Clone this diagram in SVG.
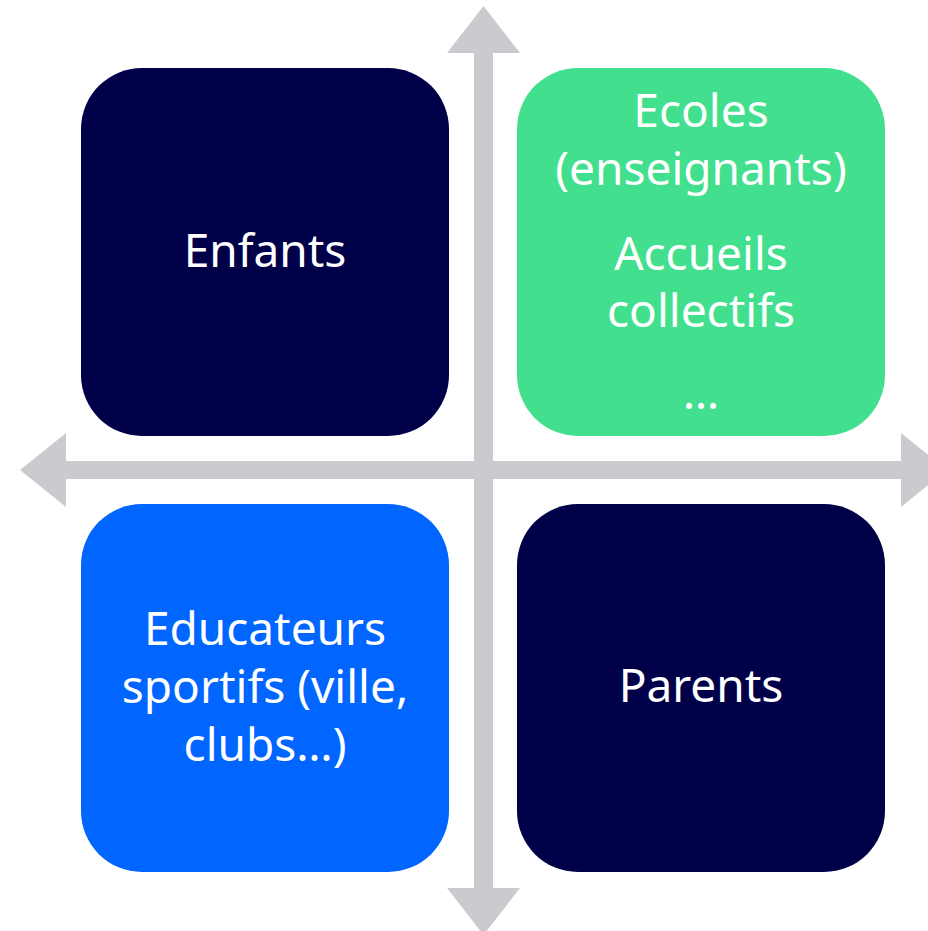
<svg xmlns="http://www.w3.org/2000/svg" width="928" height="931" viewBox="0 0 928 931">
<style>
.axis{fill:#CBCACF}
.box{stroke:none}
.navy{fill:#000049}
.green{fill:#42DF8E}
.blue{fill:#0066FF}
.lbl{font-family:"Noto Sans","Open Sans","Liberation Sans",sans-serif;font-size:46px;fill:#FFFFFF;text-anchor:middle}
</style>
<rect width="928" height="931" fill="#FFFFFF"/>
<g id="connectors">
<polygon class="axis" points="483.5,6 520,53 493,53 493,888 520,888 483.5,935 447,888 474,888 474,53 447,53"/>
<polygon class="axis" points="20,470 66,433 66,461 901,461 901,433 947,470 901,507 901,479 66,479 66,507"/>
</g>
<g id="node-enfants">
<rect class="box navy" x="81" y="68" width="368" height="368" rx="61" ry="61"/>
<text class="lbl" x="265" y="267">Enfants</text>
</g>
<g id="node-ecoles">
<rect class="box green" x="517" y="68" width="368" height="368" rx="61" ry="61"/>
<text class="lbl" x="701" y="127">Ecoles</text>
<text class="lbl" x="701" y="185">(enseignants)</text>
<text class="lbl" x="701" y="270">Accueils</text>
<text class="lbl" x="701" y="327">collectifs</text>
<text class="lbl" x="701" y="409">…</text>
</g>
<g id="node-educateurs">
<rect class="box blue" x="81" y="504" width="368" height="368" rx="61" ry="61"/>
<text class="lbl" x="265" y="645">Educateurs</text>
<text class="lbl" x="265" y="703">sportifs (ville,</text>
<text class="lbl" x="265" y="761">clubs…)</text>
</g>
<g id="node-parents">
<rect class="box navy" x="517" y="504" width="368" height="368" rx="61" ry="61"/>
<text class="lbl" x="701" y="702">Parents</text>
</g>
</svg>
